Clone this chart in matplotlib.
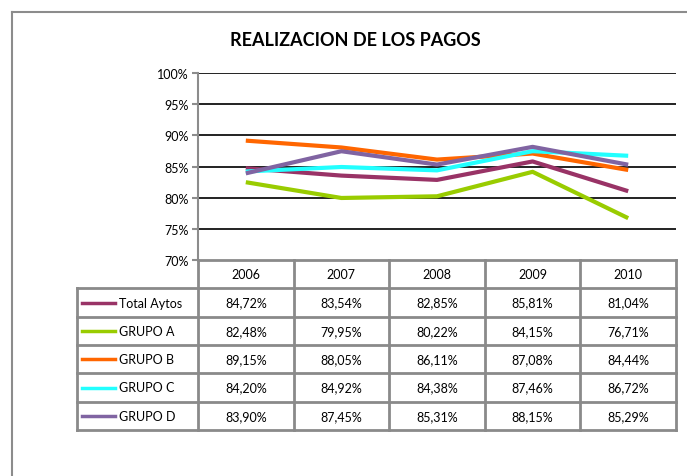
import matplotlib
matplotlib.use("Agg")
import matplotlib.pyplot as plt
from matplotlib.lines import Line2D

plt.rcParams["font.family"] = ["Lato", "DejaVu Sans"]

years = ["2006", "2007", "2008", "2009", "2010"]
series_names = ["Total Aytos", "GRUPO A", "GRUPO B", "GRUPO C", "GRUPO D"]
total_aytos = [84.72, 83.54, 82.85, 85.81, 81.04]
grupo_a = [82.48, 79.95, 80.22, 84.15, 76.71]
grupo_b = [89.15, 88.05, 86.11, 87.08, 84.44]
grupo_c = [84.20, 84.92, 84.38, 87.46, 86.72]
grupo_d = [83.90, 87.45, 85.31, 88.15, 85.29]
colors = ["#993366", "#99cc00", "#ff6600", "#22ffff", "#8064a2"]
yticks = [70, 75, 80, 85, 90, 95, 100]

values = [total_aytos, grupo_a, grupo_b, grupo_c, grupo_d]

W, H = 687, 477
fig = plt.figure(figsize=(W / 100, H / 100), dpi=100)


def fx(px):
    return px / W


def fy(py):
    return 1 - py / H


# outer chart frame (clipped at right/bottom in the reference)
frame = "#8c8c8c"
fig.add_artist(Line2D([fx(12), fx(12)], [fy(13), 0], color=frame, lw=1.5))
fig.add_artist(Line2D([fx(12), 1], [fy(13), fy(13)], color=frame, lw=1.5))

fig.text(fx(355), fy(40), "REALIZACION DE LOS PAGOS", ha="center", va="center",
         fontsize=13, fontweight="bold")

# plot area
x0, x1 = 198, 676
ytop, ybot = 74, 261
ax = fig.add_axes([fx(x0), fy(ybot), fx(x1) - fx(x0), fy(ytop) - fy(ybot)])
xs = list(range(len(years)))
for vals, c in zip(values, colors):
    ax.plot(xs, vals, color=c, lw=3, solid_capstyle="butt", zorder=3)
ax.set_xlim(-0.5, len(years) - 0.5)
ax.set_ylim(70, 100)
ax.set_yticks(yticks)
ax.set_yticklabels([f"{t}%" for t in yticks], fontsize=9)
ax.set_xticks([])
for t in yticks[1:]:
    ax.axhline(t, color="#111111", lw=1.3, zorder=1)
for s in ["top", "right", "bottom"]:
    ax.spines[s].set_visible(False)
ax.spines["left"].set_color("#8c8c8c")
ax.spines["left"].set_linewidth(1.5)
ax.tick_params(axis="y", length=4, width=1.5, color="#8c8c8c", pad=3)

# data table below the plot
col_w = (x1 - x0) / len(years)
leg_x = 77
tab_bot = 431
nrows = len(series_names) + 1
tax = fig.add_axes([fx(leg_x), fy(tab_bot), fx(x1) - fx(leg_x), fy(ybot) - fy(tab_bot)])
left_lim = -0.5 - (x0 - leg_x) / col_w
tax.set_xlim(left_lim, len(years) - 0.5)
tax.set_ylim(nrows, 0)
tax.axis("off")

grid = "#8a8a8a"
glw = 2
# horizontal borders
tax.plot([-0.5, len(years) - 0.5], [0, 0], color=grid, lw=glw, clip_on=False)
for r in range(1, nrows + 1):
    tax.plot([left_lim, len(years) - 0.5], [r, r], color=grid, lw=glw, clip_on=False)
# vertical borders
tax.plot([left_lim, left_lim], [1, nrows], color=grid, lw=glw, clip_on=False)
for k in range(len(years) + 1):
    tax.plot([k - 0.5, k - 0.5], [0, nrows], color=grid, lw=glw, clip_on=False)

for j, y in enumerate(years):
    tax.text(j, 0.5, y, ha="center", va="center", fontsize=9)

for i, (name, vals, c) in enumerate(zip(series_names, values, colors)):
    r = i + 1.5
    tax.plot([left_lim + 0.05, left_lim + 0.40], [r, r], color=c, lw=2.5)
    tax.text(left_lim + 0.44, r, name, ha="left", va="center", fontsize=9)
    for j, v in enumerate(vals):
        tax.text(j, r, f"{v:.2f}%".replace(".", ","), ha="center", va="center", fontsize=9)

fig.savefig("out.png", dpi=100)
